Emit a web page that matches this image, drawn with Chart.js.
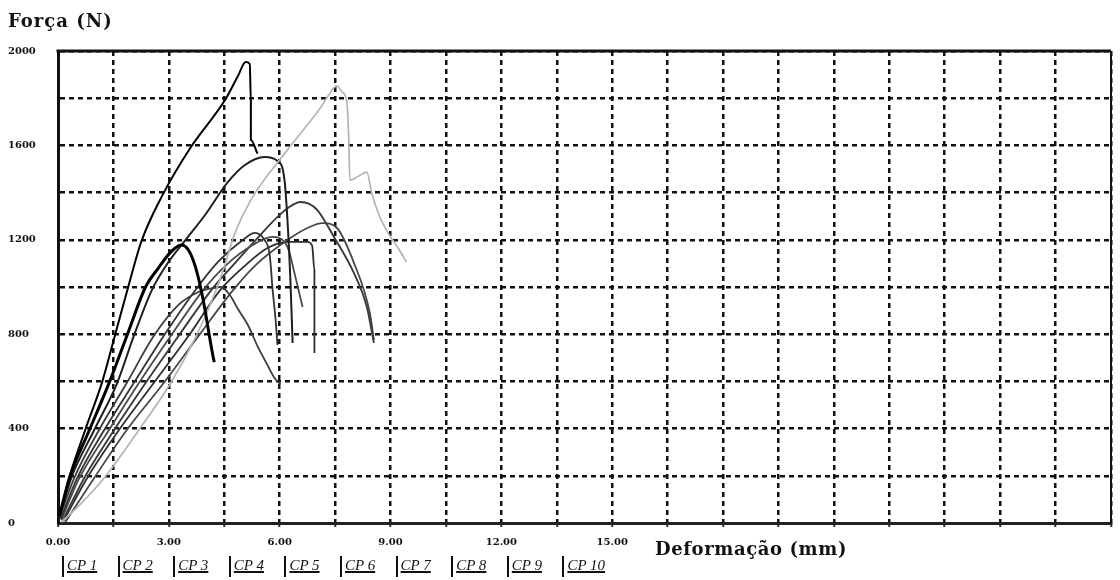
<!DOCTYPE html>
<html lang="pt">
<head>
<meta charset="utf-8">
<title>Força x Deformação</title>
<script src="https://cdn.jsdelivr.net/npm/chart.js@4.4.1/dist/chart.umd.min.js"></script>
<style>
  html, body { margin: 0; padding: 0; background: #fff; }
  #wrap { position: relative; width: 1120px; height: 580px; overflow: hidden; }
  #chart { position: absolute; left: 0; top: 0; }
  .ttl {
    position: absolute;
    font-family: 'DejaVu Serif', serif;
    font-weight: bold;
    color: #111;
    white-space: nowrap;
  }
  #ytitle { left: 8px; top: 10px; font-size: 18px; letter-spacing: 1px; }
  #xtitle { left: 655px; top: 538px; font-size: 18px; letter-spacing: 0.6px; }
  .lg {
    position: absolute;
    top: 556px;
    height: 21px;
    border-left: 2px solid #111;
    padding-left: 3px;
    font-family: 'Liberation Serif', serif;
    font-style: italic;
    font-size: 15px;
    line-height: 18px;
    color: #111;
    text-decoration: underline;
    text-decoration-thickness: 1.5px;
    white-space: nowrap;
  }
</style>
</head>
<body>
<div id="wrap">
  <canvas id="chart" width="1120" height="580"></canvas>
  <div class="ttl" id="ytitle">Força (N)</div>
  <div class="ttl" id="xtitle">Deformação (mm)</div>
</div>
<script>
// Series names (legend)
const seriesLabels = ['CP 1', 'CP 2', 'CP 3', 'CP 4', 'CP 5', 'CP 6', 'CP 7', 'CP 8', 'CP 9', 'CP 10'];

// Deformação (mm) / Força (N)
const cp1Mm = [0.04, 0.30, 0.75, 1.20, 1.55, 1.90, 2.25, 2.80, 3.58, 4.52, 4.87, 5.08, 5.19, 5.22, 5.22, 5.40];
const cp1N  = [30, 190, 400, 600, 800, 1000, 1190, 1381, 1589, 1792, 1894, 1953, 1945, 1792, 1623, 1565];

const cp2Mm = [0.04, 0.31, 0.85, 1.40, 1.88, 2.37, 2.72, 3.05, 3.34, 3.53, 3.72, 3.93, 4.07, 4.20, 4.23];
const cp2N  = [30, 191, 394, 600, 800, 1000, 1081, 1148, 1178, 1157, 1085, 945, 818, 703, 682];

const cp3Mm = [0.09, 0.58, 1.25, 2.19, 3.05, 3.74, 4.28, 4.55, 4.78, 5.22, 6.21, 7.10, 7.42, 7.55, 7.69, 7.82, 7.87, 7.90, 8.14, 8.36, 8.49, 8.71, 8.97, 9.24, 9.43];
const cp3N  = [4, 76, 191, 394, 593, 792, 987, 1110, 1225, 1369, 1581, 1758, 1835, 1852, 1826, 1780, 1623, 1453, 1470, 1487, 1398, 1297, 1220, 1157, 1106];

const cp4Mm = [0.04, 0.36, 0.98, 1.60, 2.05, 2.54, 2.99, 3.45, 3.98, 4.60, 5.06, 5.59, 5.94, 6.13, 6.21, 6.29, 6.35];
const cp4N  = [25, 191, 394, 593, 792, 987, 1106, 1199, 1305, 1445, 1517, 1551, 1534, 1453, 1284, 1030, 763];

const cp5Mm = [0.04, 0.44, 1.11, 1.86, 2.59, 3.26, 3.80, 4.20, 4.41, 4.65, 4.87, 5.14, 5.41, 5.67, 5.86, 6.02];
const cp5N  = [21, 191, 394, 593, 792, 924, 979, 996, 1000, 966, 907, 839, 746, 669, 614, 589];

const cp6Mm = [0.07, 0.52, 1.25, 2.05, 2.86, 3.72, 4.33, 5.00, 5.33, 5.59, 5.73, 5.81, 5.89, 5.94];
const cp6N  = [17, 191, 394, 593, 792, 987, 1106, 1199, 1229, 1199, 1136, 987, 860, 754];

const cp7Mm = [0.09, 0.58, 1.38, 2.19, 3.05, 3.93, 4.55, 5.27, 5.81, 6.13, 6.26, 6.40, 6.51, 6.62];
const cp7N  = [13, 191, 394, 593, 792, 987, 1093, 1178, 1212, 1191, 1148, 1059, 987, 915];

const cp8Mm = [0.12, 0.71, 1.52, 2.37, 3.26, 4.15, 4.74, 5.35, 5.94, 6.26, 6.56, 6.80, 7.02, 7.47, 8.01, 8.36, 8.55];
const cp8N  = [8, 191, 394, 593, 792, 987, 1093, 1199, 1297, 1339, 1360, 1352, 1326, 1212, 1059, 915, 763];

const cp9Mm = [0.15, 0.79, 1.65, 2.59, 3.53, 4.39, 5.08, 5.67, 6.21, 6.75, 6.88, 6.94, 6.94, 6.94];
const cp9N  = [8, 191, 394, 593, 792, 987, 1093, 1165, 1191, 1191, 1174, 1072, 903, 720];

const cp10Mm = [0.20, 0.98, 1.86, 2.86, 3.80, 4.74, 5.35, 6.21, 6.75, 7.15, 7.55, 8.01, 8.44, 8.55];
const cp10N  = [4, 191, 394, 593, 792, 987, 1093, 1199, 1250, 1271, 1250, 1102, 890, 775];

// Labelled ticks (the grid itself runs every 1.5 mm / 200 N)
const xLabelValues = [0, 3, 6, 9, 12, 15];
const yLabelValues = [0, 400, 800, 1200, 1600, 2000];

const seriesMm = [cp1Mm, cp2Mm, cp3Mm, cp4Mm, cp5Mm, cp6Mm, cp7Mm, cp8Mm, cp9Mm, cp10Mm];
const seriesN = [cp1N, cp2N, cp3N, cp4N, cp5N, cp6N, cp7N, cp8N, cp9N, cp10N];

// styles, one per series
const lineColors = ['#000', '#000', '#b4b4b4', '#1e1e1e', '#3c3c3c', '#333', '#4a4a4a', '#3a3a3a', '#2e2e2e', '#484848'];
const lineWidths = [2, 3, 1.7, 2, 1.8, 1.8, 1.8, 1.9, 1.8, 1.8];

const tickFont = { family: "'DejaVu Serif', serif", weight: 'bold', size: 10 };

// top and right edges of the plot frame
const framePlugin = {
  id: 'frame',
  beforeDatasetsDraw(chart) {
    const { ctx, chartArea: a } = chart;
    ctx.save();
    ctx.strokeStyle = '#111';
    ctx.lineWidth = 3;
    ctx.beginPath();
    ctx.moveTo(a.left - 1.5, a.top);
    ctx.lineTo(a.right, a.top);
    ctx.stroke();
    ctx.lineWidth = 2;
    ctx.beginPath();
    ctx.moveTo(a.right, a.top);
    ctx.lineTo(a.right, a.bottom);
    ctx.stroke();
    ctx.restore();
  },
};

const datasets = seriesLabels.map((label, i) => ({
  label,
  data: seriesMm[i].map((x, j) => ({ x, y: seriesN[i][j] })),
  showLine: true,
  borderColor: lineColors[i],
  borderWidth: lineWidths[i],
  pointRadius: 0,
  cubicInterpolationMode: 'monotone',
}));

new Chart(document.getElementById('chart'), {
  type: 'scatter',
  data: { datasets },
  options: {
    responsive: false,
    animation: false,
    devicePixelRatio: 1,
    layout: { padding: { left: 8, top: 51, right: 1, bottom: 0 } },
    plugins: {
      legend: { display: false },
      tooltip: { enabled: false },
    },
    scales: {
      x: {
        type: 'linear',
        min: 0,
        max: 28.5,
        afterFit(scale) { scale.height = 57; },
        ticks: {
          stepSize: 1.5,
          autoSkip: false,
          maxRotation: 0,
          minRotation: 0,
          padding: 9,
          color: '#111',
          font: tickFont,
          callback: (v) => (xLabelValues.includes(v) ? v.toFixed(2) : ''),
        },
        grid: { color: '#111', lineWidth: 2.5, drawTicks: true, tickLength: 4, tickWidth: 2, tickColor: '#333' },
        border: { display: true, color: '#222', width: 3, dash: [5, 4] },
      },
      y: {
        type: 'linear',
        min: 0,
        max: 2000,
        afterFit(scale) { scale.width = 50; },
        ticks: {
          stepSize: 200,
          crossAlign: 'far',
          color: '#111',
          font: tickFont,
          callback: (v) => (yLabelValues.includes(v) ? String(v) : ''),
        },
        grid: { color: '#111', lineWidth: 2.5, drawTicks: false },
        border: { display: true, color: '#111', width: 3, dash: [5, 4] },
      },
    },
  },
  plugins: [framePlugin],
});

// legend under the x axis, one tab per series
const wrap = document.getElementById('wrap');
seriesLabels.forEach((label, i) => {
  const el = document.createElement('div');
  el.className = 'lg';
  el.style.left = (62 + i * 55.6) + 'px';
  el.textContent = label;
  wrap.appendChild(el);
});
</script>
</body>
</html>
